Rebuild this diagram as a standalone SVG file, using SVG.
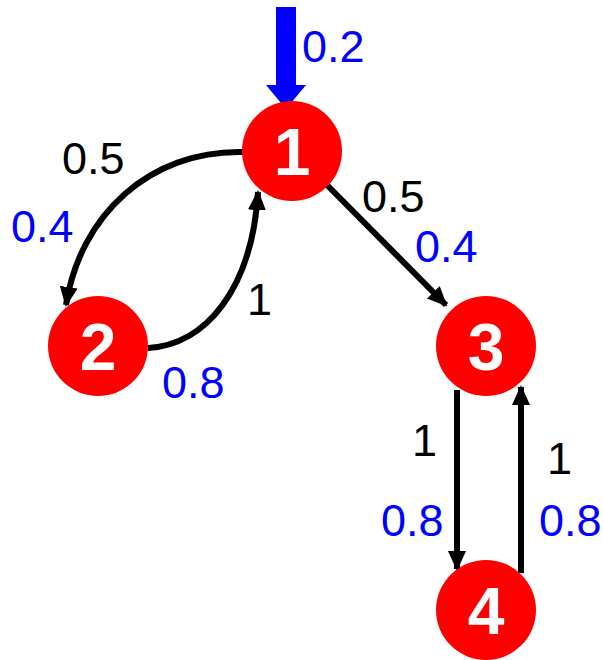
<svg xmlns="http://www.w3.org/2000/svg" width="603" height="660" viewBox="0 0 603 660">
<defs>
<style>
.node{fill:#ff0000}
.num{font-family:"Liberation Sans",Arial,sans-serif;font-weight:bold;font-size:66px;fill:#fff;text-anchor:middle}
.lbl{font-family:"Liberation Sans",Arial,sans-serif;font-size:45px}
.k{fill:#000}
.b{fill:#0000ff}
.edge{fill:none;stroke:#000;stroke-width:6;marker-end:url(#ah)}
</style>
<marker id="ah" markerWidth="20" markerHeight="20" viewBox="0 0 20 20" refX="18" refY="10" orient="auto" markerUnits="userSpaceOnUse">
<path d="M0,1 L20,10 L0,19 Z" fill="#000"/>
</marker>
</defs>
<rect width="603" height="660" fill="#fff"/>
<g id="connectors">
<path class="edge" d="M243,152 C150,150 80,215 66,305"/>
<path class="edge" d="M148,348 C205,345 252,290 258,192"/>
<path class="edge" d="M325,183 L446,305"/>
<path class="edge" d="M457,390 L457,569"/>
<path class="edge" d="M521,573 L521,387"/>
<path d="M276,7 L296,7 L296,85 L306,85 L286,109 L266,85 L276,85 Z" fill="#0000ff"/>
</g>
<g id="labels">
<text class="lbl b" x="302" y="62">0.2</text>
<text class="lbl k" x="62" y="174">0.5</text>
<text class="lbl b" x="11" y="242">0.4</text>
<text class="lbl k" x="247" y="315">1</text>
<text class="lbl b" x="162" y="398">0.8</text>
<text class="lbl k" x="362" y="212">0.5</text>
<text class="lbl b" x="415" y="262">0.4</text>
<text class="lbl k" x="412" y="456">1</text>
<text class="lbl b" x="381" y="536">0.8</text>
<text class="lbl k" x="547" y="474">1</text>
<text class="lbl b" x="539" y="536">0.8</text>
</g>
<g id="node1"><circle class="node" cx="292" cy="151" r="50"/><text class="num" x="292" y="175">1</text></g>
<g id="node2"><circle class="node" cx="98" cy="346" r="50"/><text class="num" x="98" y="370">2</text></g>
<g id="node3"><circle class="node" cx="486" cy="346" r="50"/><text class="num" x="486" y="370">3</text></g>
<g id="node4"><circle class="node" cx="486" cy="610" r="50"/><text class="num" x="486" y="634">4</text></g>
</svg>
